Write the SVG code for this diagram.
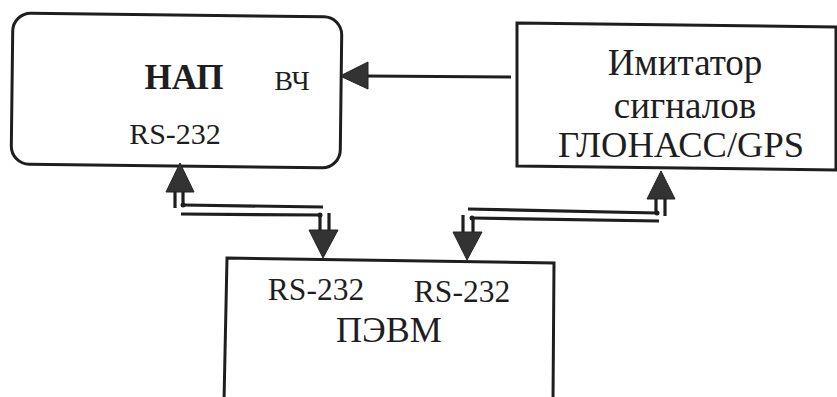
<svg xmlns="http://www.w3.org/2000/svg" width="837" height="397" viewBox="0 0 837 397">
<style>
.box{fill:none;stroke:#1e1e1e;stroke-width:3}
.ln{fill:none;stroke:#1e1e1e;stroke-width:3.2;stroke-linecap:butt}
.hd{fill:#333;stroke:#222;stroke-width:1}
.dot{fill:#1e1e1e}
text{fill:#1e1e1e}
</style>
<rect width="837" height="397" fill="#fff"/>
<g id="nap" font-family="Liberation Serif">
<rect class="box" x="12" y="15" width="329" height="151" rx="18" transform="rotate(0.7 176 91)"/>
<text x="184" y="89" font-size="35" font-weight="bold" text-anchor="middle">НАП</text>
<text x="292" y="90" font-size="28" text-anchor="middle">ВЧ</text>
<text x="175" y="144" font-size="30" text-anchor="middle">RS-232</text>
</g>
<g id="imitator" font-family="Liberation Serif">
<path class="box" d="M517,23 L836,27 L836,170 L517,166 Z"/>
<text x="685" y="75" font-size="37" text-anchor="middle">Имитатор</text>
<text x="685" y="118" font-size="37" text-anchor="middle">сигналов</text>
<text x="681" y="157" font-size="36.5" text-anchor="middle">ГЛОНАСС/GPS</text>
</g>
<g id="pevm" font-family="Liberation Serif">
<path class="box" d="M227,258 L554,263 L553,402 L224,402 Z"/>
<text x="316" y="300" font-size="31.5" text-anchor="middle">RS-232</text>
<text x="462" y="302" font-size="31.5" text-anchor="middle">RS-232</text>
<text x="389" y="342" font-size="36" text-anchor="middle">ПЭВМ</text>
</g>
<g id="connectors">
<line class="ln" x1="511" y1="77" x2="366" y2="76" stroke-width="3.6"/>
<polygon class="hd" points="340,76 368,62 368,89"/>
<polygon class="hd" points="180,163 166,192 194,192"/>
<line class="ln" x1="175" y1="192" x2="175" y2="208"/>
<line class="ln" x1="183" y1="192" x2="183" y2="205"/>
<line class="ln" x1="183" y1="205" x2="323" y2="207"/>
<line class="ln" x1="181" y1="214" x2="320" y2="215"/>
<circle class="dot" cx="183" cy="205" r="2.5"/>
<circle class="dot" cx="320" cy="215" r="2.5"/>
<line class="ln" x1="320" y1="213" x2="320" y2="231"/>
<line class="ln" x1="329" y1="213" x2="329" y2="231"/>
<polygon class="hd" points="309,230 338,230 323,258"/>
<polygon class="hd" points="661,171 647,199 675,199"/>
<line class="ln" x1="656" y1="199" x2="656" y2="213"/>
<line class="ln" x1="665" y1="199" x2="665" y2="216"/>
<line class="ln" x1="468" y1="209" x2="657" y2="213"/>
<line class="ln" x1="472" y1="218" x2="659" y2="221"/>
<circle class="dot" cx="657" cy="213" r="2.5"/>
<circle class="dot" cx="472" cy="218" r="2.5"/>
<line class="ln" x1="463" y1="215" x2="463" y2="233"/>
<line class="ln" x1="473" y1="218" x2="473" y2="233"/>
<polygon class="hd" points="453,232 482,232 467,260"/>
</g>
</svg>
